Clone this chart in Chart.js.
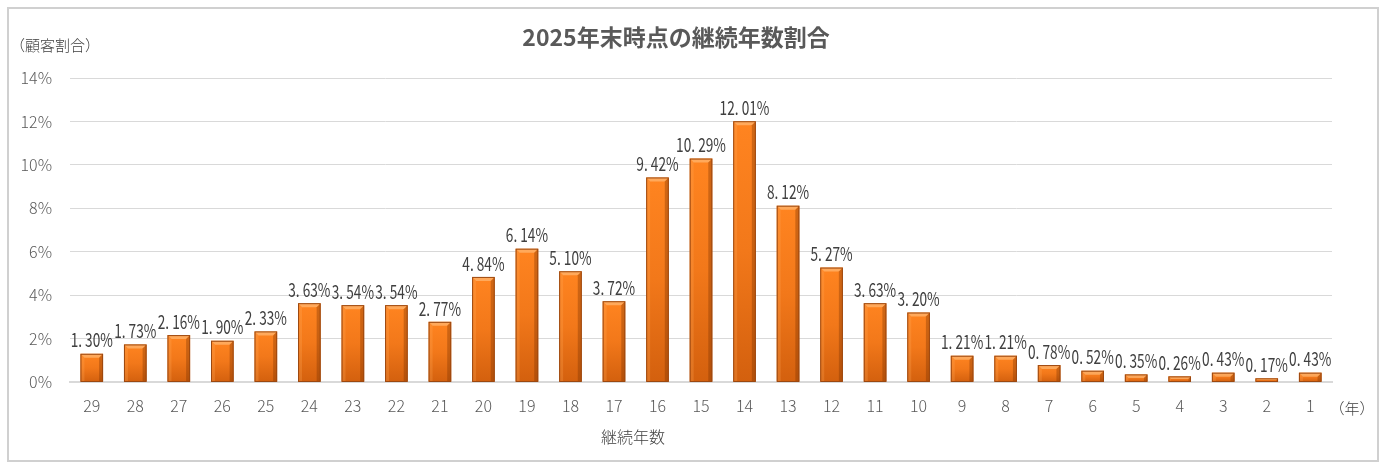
<!DOCTYPE html>
<html><head><meta charset="utf-8">
<script src="https://cdn.jsdelivr.net/npm/chart.js@4"></script>
<style>html,body{margin:0;padding:0;background:#fff}#wrap{width:1386px;height:469px;position:relative}</style>
</head><body><div id="wrap"><canvas id="c"></canvas></div>
<script>
const chartTitle = '2025年末時点の継続年数割合';
const yAxisTitle = '（顧客割合）';
const xAxisTitle = '継続年数';
const xUnit = '（年）';
const categories = ['29','28','27','26','25','24','23','22','21','20','19','18','17','16','15','14','13','12','11','10','9','8','7','6','5','4','3','2','1'];
const shares = [1.30,1.73,2.16,1.90,2.33,3.63,3.54,3.54,2.77,4.84,6.14,5.10,3.72,9.42,10.29,12.01,8.12,5.27,3.63,3.20,1.21,1.21,0.78,0.52,0.35,0.26,0.43,0.17,0.43];
const yTicks = [0,2,4,6,8,10,12,14];

const tickFont = '"Noto Sans CJK JP", "Noto Sans", sans-serif';

const decor = {
  id:'decor',
  beforeDraw(chart){
    const ctx = chart.ctx;
    ctx.save();
    ctx.fillStyle='#fff';ctx.fillRect(0,0,chart.width,chart.height);
    ctx.strokeStyle='#d0d0d0';ctx.lineWidth=2;
    ctx.strokeRect(8,8,chart.width-16,chart.height-16);
    ctx.restore();
  },
  afterDraw(chart){
    const ctx = chart.ctx;
    ctx.save();
    ctx.fillStyle='#595959';
    ctx.font='bold 23px '+tickFont;
    ctx.textAlign='center';ctx.textBaseline='middle';
    ctx.fillText(chartTitle, 676, 37);
    ctx.fillStyle='#404040';
    ctx.font='300 15px '+tickFont;
    ctx.textAlign='left';
    ctx.fillText(yAxisTitle, 10, 45);
    ctx.font='300 16px '+tickFont;
    ctx.textAlign='center';
    ctx.fillText(xAxisTitle, 633, 437);
    ctx.font='300 15px '+tickFont;
    ctx.fillText(xUnit, 1352, 408);
    ctx.restore();
  },
  afterDatasetsDraw(chart){
    const ctx = chart.ctx;
    const meta = chart.getDatasetMeta(0);
    ctx.save();
    // bevel shading
    meta.data.forEach(bar=>{
      const l = bar.x - bar.width/2, r = bar.x + bar.width/2, t = bar.y, b = bar.base;
      const h = b - t;
      const bv = Math.min(4, h/2);
      ctx.fillStyle='rgba(255,200,140,0.55)';
      ctx.beginPath();ctx.moveTo(l,t);ctx.lineTo(r,t);ctx.lineTo(r-bv,t+bv);ctx.lineTo(l+bv,t+bv);ctx.closePath();ctx.fill();
      ctx.fillStyle='rgba(120,50,0,0.35)';
      ctx.beginPath();ctx.moveTo(r,t);ctx.lineTo(r,b);ctx.lineTo(r-bv,b);ctx.lineTo(r-bv,t+bv);ctx.closePath();ctx.fill();
      ctx.fillStyle='rgba(255,170,90,0.25)';
      ctx.beginPath();ctx.moveTo(l,t);ctx.lineTo(l+bv,t+bv);ctx.lineTo(l+bv,b);ctx.lineTo(l,b);ctx.closePath();ctx.fill();
      ctx.strokeStyle='#9C4810';ctx.lineWidth=1;
      ctx.strokeRect(l+0.5,t+0.5,bar.width-1,h-0.5);
    });
    ctx.fillStyle='#404040';
    ctx.textBaseline='bottom';ctx.textAlign='center';
    meta.data.forEach((bar,i)=>{
      const txt = shares[i].toFixed(2).replace('.', '. ')+'%';
      ctx.save();
      ctx.translate(bar.x, bar.y-4);
      ctx.scale(0.72,1);
      ctx.font='19px "Noto Sans CJK JP", "DejaVu Sans", sans-serif';
      ctx.fillText(txt,0,0);
      ctx.restore();
    });
    ctx.restore();
  }
};

function barFill(context){
  const chart = context.chart;
  const ys = chart.scales && chart.scales.y;
  if(!ys || context.dataIndex===undefined) return '#F07D1A';
  const top = ys.getPixelForValue(shares[context.dataIndex]);
  const base = ys.getPixelForValue(0);
  if(!isFinite(top)||!isFinite(base)||base-top<1) return '#F07D1A';
  const g = chart.ctx.createLinearGradient(0,top,0,base);
  g.addColorStop(0,'#FF8420');
  g.addColorStop(0.5,'#F2781A');
  g.addColorStop(1,'#D3600E');
  return g;
}

new Chart(document.getElementById('c'),{
  type:'bar',
  data:{labels:categories,datasets:[{data:shares,backgroundColor:barFill,borderWidth:0,categoryPercentage:1,barPercentage:0.52}]},
  options:{
    responsive:true,maintainAspectRatio:false,animation:false,devicePixelRatio:1,
    layout:{padding:{left:0,right:54,top:78,bottom:0}},
    plugins:{legend:{display:false},tooltip:{enabled:false},title:{display:false}},
    scales:{
      x:{grid:{display:false,drawTicks:false},border:{display:true,color:'#d9d9d9',width:2},
         ticks:{color:'#595959',font:{family:tickFont,size:16,weight:300},padding:14,maxRotation:0,autoSkip:false},
         afterFit(s){s.height=87;}},
      y:{min:0,max:14,grid:{color:'#d9d9d9',drawTicks:false},border:{display:false},
         afterBuildTicks(s){s.ticks=yTicks.map(v=>({value:v}));},
         ticks:{color:'#595959',font:{family:tickFont,size:16,weight:300},padding:18,callback:v=>v+'%'},
         afterFit(s){s.width=70;}}
    }
  },
  plugins:[decor]
});
</script></body></html>
